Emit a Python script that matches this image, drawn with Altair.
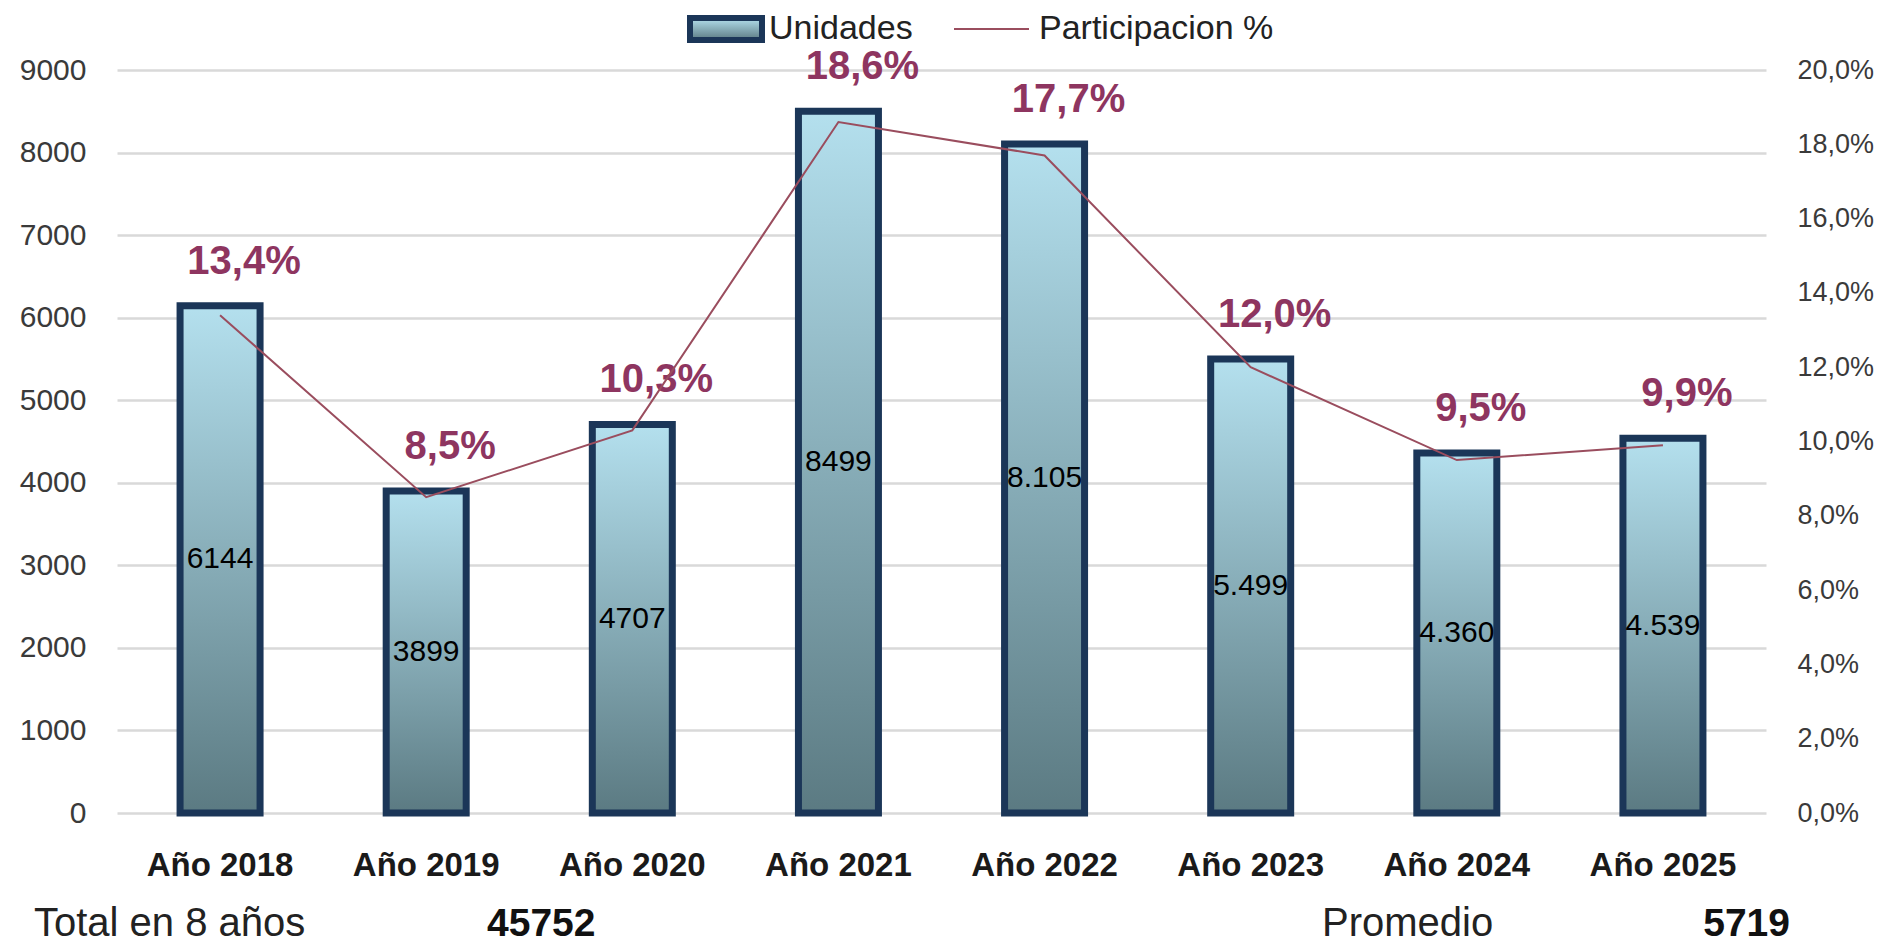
import altair as alt
import pandas as pd

years = ["Año 2018", "Año 2019", "Año 2020", "Año 2021", "Año 2022", "Año 2023", "Año 2024", "Año 2025"]
units = [6144, 3899, 4707, 8499, 8105, 5499, 4360, 4539]
unit_labels = ["6144", "3899", "4707", "8499", "8.105", "5.499", "4.360", "4.539"]
share = [0.134, 0.085, 0.103, 0.186, 0.177, 0.120, 0.095, 0.099]

df = pd.DataFrame({"year": years, "units": units, "ulabel": unit_labels, "share": share})

FONT = "Liberation Sans, Arial, sans-serif"
W, H = 1649, 743

x = alt.X("year:N", sort=years, title=None,
          scale=alt.Scale(paddingInner=0, paddingOuter=0),
          axis=alt.Axis(labelAngle=0, labelFontSize=33, labelFontWeight="bold",
                        labelColor="#1a1a1a", labelFont=FONT, ticks=False, tickSize=0,
                        domain=False, labelPadding=52, labelBaseline="middle", grid=False))

grad = alt.Gradient(gradient="linear", x1=0, y1=0, x2=0, y2=1,
                    stops=[alt.GradientStop(offset=0, color="#B4E0EE"),
                           alt.GradientStop(offset=1, color="#5B7A82")])

base = alt.Chart(df)

bars = base.mark_bar(size=80, color=grad, stroke="#1B3658", strokeWidth=7).encode(
    x=x,
    y=alt.Y("units:Q", title=None,
            scale=alt.Scale(domain=[0, 9000], nice=False),
            axis=alt.Axis(values=list(range(0, 9001, 1000)), format="d", grid=True,
                          gridColor="#D9D9D9", gridWidth=2.5, domain=False, ticks=False,
                          labelFontSize=30, labelColor="#3a3a3a", labelFont=FONT, labelPadding=31)),
)

bar_text = base.transform_calculate(half="datum.units / 2").mark_text(
    fontSize=30, color="#000000", font=FONT, baseline="middle").encode(
    x=x,
    y=alt.Y("half:Q", scale=alt.Scale(domain=[0, 9000], nice=False)),
    text="ulabel:N",
)

pct_text = base.transform_calculate(
    lab="replace(format(datum.share, '.1%'), '.', ',')").mark_text(
    fontSize=40, fontWeight="bold", color="#8E3560", font=FONT, baseline="middle",
    dy=-44, dx=24).encode(
    x=x,
    y=alt.Y("units:Q", scale=alt.Scale(domain=[0, 9000], nice=False)),
    text="lab:N",
)

left = alt.layer(bars, bar_text, pct_text)

line = base.mark_line(color="#9A4D5E", strokeWidth=2).encode(
    x=x,
    y=alt.Y("share:Q", title=None,
            scale=alt.Scale(domain=[0, 0.2], nice=False),
            axis=alt.Axis(orient="right", values=[i / 100 for i in range(0, 21, 2)],
                          labelExpr="replace(format(datum.value, '.1%'), '.', ',')",
                          grid=False, domain=False, ticks=False, labelFontSize=27,
                          labelColor="#3a3a3a", labelFont=FONT, labelPadding=31)),
)

one = alt.Data(values=[{"k": 1}])
leg_rect = alt.Chart(one).mark_rect(color=grad, stroke="#1B3658", strokeWidth=6).encode(
    x=alt.value(573), x2=alt.value(645), y=alt.value(-52), y2=alt.value(-30))
leg_t1 = alt.Chart(one).mark_text(text="Unidades", fontSize=34, font=FONT, color="#222222",
                                  align="left", baseline="middle").encode(
    x=alt.value(652), y=alt.value(-41))
leg_rule = alt.Chart(one).mark_rule(color="#9A4D5E", strokeWidth=2).encode(
    x=alt.value(837), x2=alt.value(912), y=alt.value(-41))
leg_t2 = alt.Chart(one).mark_text(text="Participacion %", fontSize=34, font=FONT, color="#222222",
                                  align="left", baseline="middle").encode(
    x=alt.value(922), y=alt.value(-41))

agg = base.transform_aggregate(total="sum(units)", avg="mean(units)")
tot_lbl = alt.Chart(one).mark_text(text="Total en 8 años", fontSize=40, font=FONT, color="#222222",
                                   align="left", baseline="middle").encode(
    x=alt.value(-83), y=alt.value(854))
tot_val = agg.mark_text(fontSize=39, fontWeight="bold", font=FONT, color="#111111",
                        align="left", baseline="middle").encode(
    x=alt.value(370), y=alt.value(854), text=alt.Text("total:Q", format="d"))
avg_lbl = alt.Chart(one).mark_text(text="Promedio", fontSize=40, font=FONT, color="#222222",
                                   align="left", baseline="middle").encode(
    x=alt.value(1205), y=alt.value(854))
avg_val = agg.mark_text(fontSize=39, fontWeight="bold", font=FONT, color="#111111",
                        align="right", baseline="middle").encode(
    x=alt.value(1673), y=alt.value(854), text=alt.Text("avg:Q", format=".0f"))

chart = alt.layer(left, line, leg_rect, leg_t1, leg_rule, leg_t2,
                  tot_lbl, tot_val, avg_lbl, avg_val).resolve_scale(y="independent").properties(
    width=W, height=H,
    autosize=alt.AutoSizeParams(type="none"),
    padding={"left": 109, "top": 62, "right": 110, "bottom": 131},
).configure_view(stroke=None)

chart.save("out.html", embed_options={"renderer": "svg", "actions": False})
